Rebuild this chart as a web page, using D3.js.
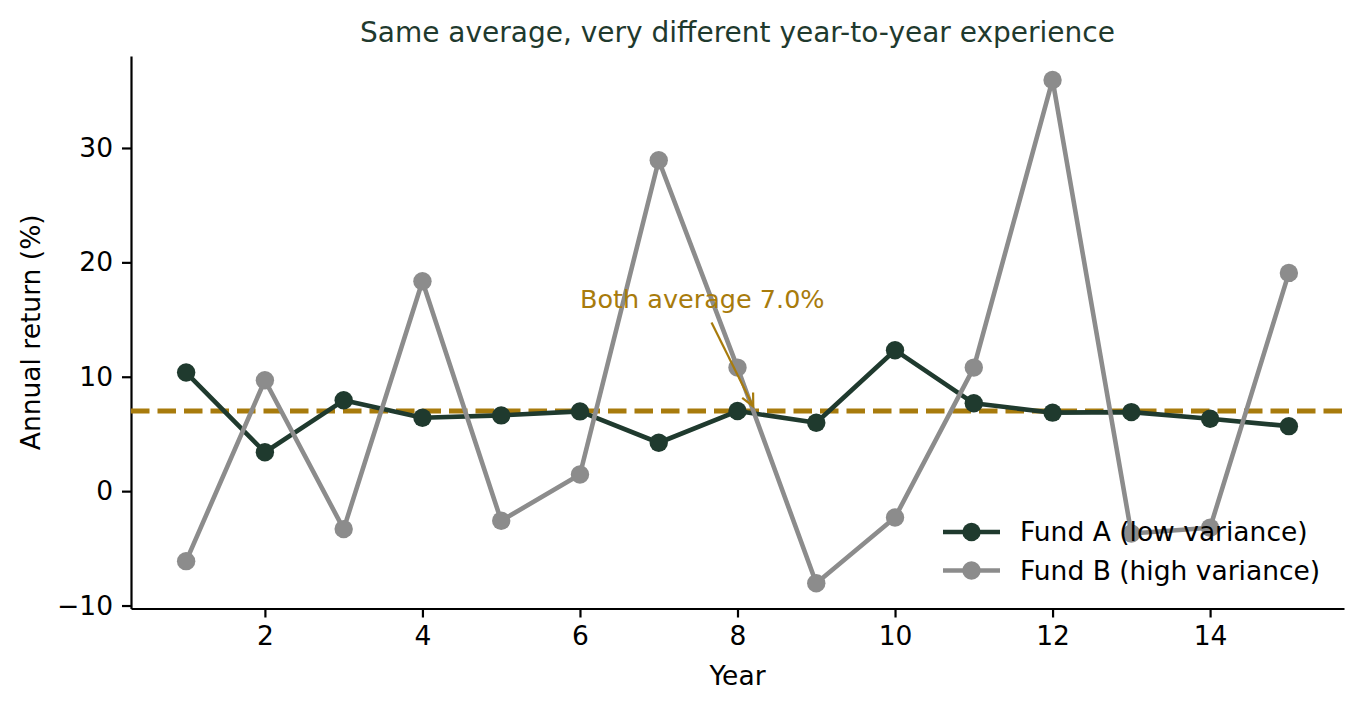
<!DOCTYPE html>
<html lang="en">
<head>
<meta charset="utf-8">
<title>Same average, very different year-to-year experience</title>
<script src="https://d3js.org/d3.v7.min.js"></script>
<style>
  body { margin: 0; background: #fff; }
  text { font-family: "DejaVu Sans", sans-serif; }
</style>
</head>
<body>
<script>
// data
const years = [1, 2, 3, 4, 5, 6, 7, 8, 9, 10, 11, 12, 13, 14, 15];
const fundA = [10.37, 3.40, 7.94, 6.42, 6.62, 6.97, 4.23, 7.00, 5.98, 12.32, 7.68, 6.86, 6.91, 6.33, 5.68];
const fundB = [-6.12, 9.69, -3.32, 18.35, -2.59, 1.45, 28.93, 10.80, -8.05, -2.30, 10.80, 35.95, -3.70, -3.20, 19.08];
const seriesNames = ["Fund A (low variance)", "Fund B (high variance)"];
const xTicks = [2, 4, 6, 8, 10, 12, 14];
const yTicks = [-10, 0, 10, 20, 30];
const average = 7.0;
const noteText = "Both average 7.0%";
const notePos = [6, 16];        // text anchor (year, %)
const noteTail = [7.67, 14.75]; // arrow start
const noteHead = [8.2, 7.4];    // arrow tip

const width = 1362, height = 710;
const margin = {top: 56, right: 18, bottom: 101.5, left: 131};
const colA = "#1f3a2e", colB = "#8c8c8c", colAvg = "#a87b0c";
const fs = 26.5;

const svg = d3.select("body").append("svg")
  .attr("width", width).attr("height", height);

const x = d3.scaleLinear().domain([0.3, 15.7]).range([margin.left, width - margin.right]);
const y = d3.scaleLinear().domain([-10.26, 38.04]).range([height - margin.bottom, margin.top]);

// axes
const xAxis = svg.append("g")
  .attr("transform", "translate(0," + (height - margin.bottom) + ")")
  .call(d3.axisBottom(x).tickValues(xTicks).tickSize(9).tickPadding(9).tickSizeOuter(0));
const yAxis = svg.append("g")
  .attr("transform", "translate(" + margin.left + ",0)")
  .call(d3.axisLeft(y).tickValues(yTicks).tickSize(9).tickPadding(9).tickSizeOuter(0)
        .tickFormat(d => d < 0 ? "\u2212" + Math.abs(d) : d));
[xAxis, yAxis].forEach(g => {
  g.selectAll(".domain").attr("stroke", "#000").attr("stroke-width", 2.2);
  g.selectAll(".tick line").attr("stroke", "#000").attr("stroke-width", 2.2);
  g.selectAll(".tick text").attr("fill", "#000").attr("font-size", fs)
    .attr("font-family", "DejaVu Sans, sans-serif");
});

// labels
svg.append("text").text("Same average, very different year-to-year experience")
  .attr("x", (margin.left + width - margin.right) / 2).attr("y", 42)
  .attr("text-anchor", "middle").attr("font-size", 28).attr("fill", "#1f3a2e");
svg.append("text").text("Year")
  .attr("x", (margin.left + width - margin.right) / 2).attr("y", 685)
  .attr("text-anchor", "middle").attr("font-size", fs).attr("fill", "#000");
svg.append("text").text("Annual return (%)")
  .attr("transform", "translate(40," + ((margin.top + height - margin.bottom) / 2) + ") rotate(-90)")
  .attr("text-anchor", "middle").attr("font-size", fs).attr("fill", "#000");

// average line
svg.append("line")
  .attr("x1", margin.left).attr("x2", width - margin.right)
  .attr("y1", y(average)).attr("y2", y(average))
  .attr("stroke", colAvg).attr("stroke-width", 5).attr("stroke-dasharray", "18.5,8");

// series
const line = d3.line().x(d => x(d[0])).y(d => y(d[1]));
function drawSeries(vals, col) {
  const pts = years.map((yr, i) => [yr, vals[i]]);
  svg.append("path").datum(pts).attr("d", line)
    .attr("fill", "none").attr("stroke", col).attr("stroke-width", 4.6)
    .attr("stroke-linejoin", "round");
  svg.append("g").selectAll("circle").data(pts).enter().append("circle")
    .attr("cx", d => x(d[0])).attr("cy", d => y(d[1])).attr("r", 9.2).attr("fill", col);
}
drawSeries(fundA, colA);
drawSeries(fundB, colB);

// annotation
svg.append("text").text(noteText)
  .attr("x", x(notePos[0])).attr("y", y(notePos[1]))
  .attr("font-size", 25.5).attr("fill", colAvg);
const ax1 = x(noteTail[0]), ay1 = y(noteTail[1]), ax2 = x(noteHead[0]), ay2 = y(noteHead[1]);
svg.append("line").attr("x1", ax1).attr("y1", ay1).attr("x2", ax2).attr("y2", ay2)
  .attr("stroke", colAvg).attr("stroke-width", 2.2);
const ang = Math.atan2(ay2 - ay1, ax2 - ax1);
const hl = 14, hw = 0.45;
svg.append("path")
  .attr("d", "M" + (ax2 - hl * Math.cos(ang - hw)) + "," + (ay2 - hl * Math.sin(ang - hw)) +
             "L" + ax2 + "," + ay2 +
             "L" + (ax2 - hl * Math.cos(ang + hw)) + "," + (ay2 - hl * Math.sin(ang + hw)))
  .attr("fill", "none").attr("stroke", colAvg).attr("stroke-width", 2.2);

// legend
const legend = svg.append("g").attr("transform", "translate(943,532)");
[[colA, seriesNames[0]], [colB, seriesNames[1]]].forEach((d, i) => {
  const g = legend.append("g").attr("transform", "translate(0," + i * 38.5 + ")");
  g.append("line").attr("x1", 0).attr("x2", 57).attr("stroke", d[0]).attr("stroke-width", 4.6);
  g.append("circle").attr("cx", 28.5).attr("r", 9.2).attr("fill", d[0]);
  g.append("text").text(d[1]).attr("x", 77).attr("dy", "0.35em")
    .attr("font-size", fs).attr("fill", "#000");
});
</script>
</body>
</html>
